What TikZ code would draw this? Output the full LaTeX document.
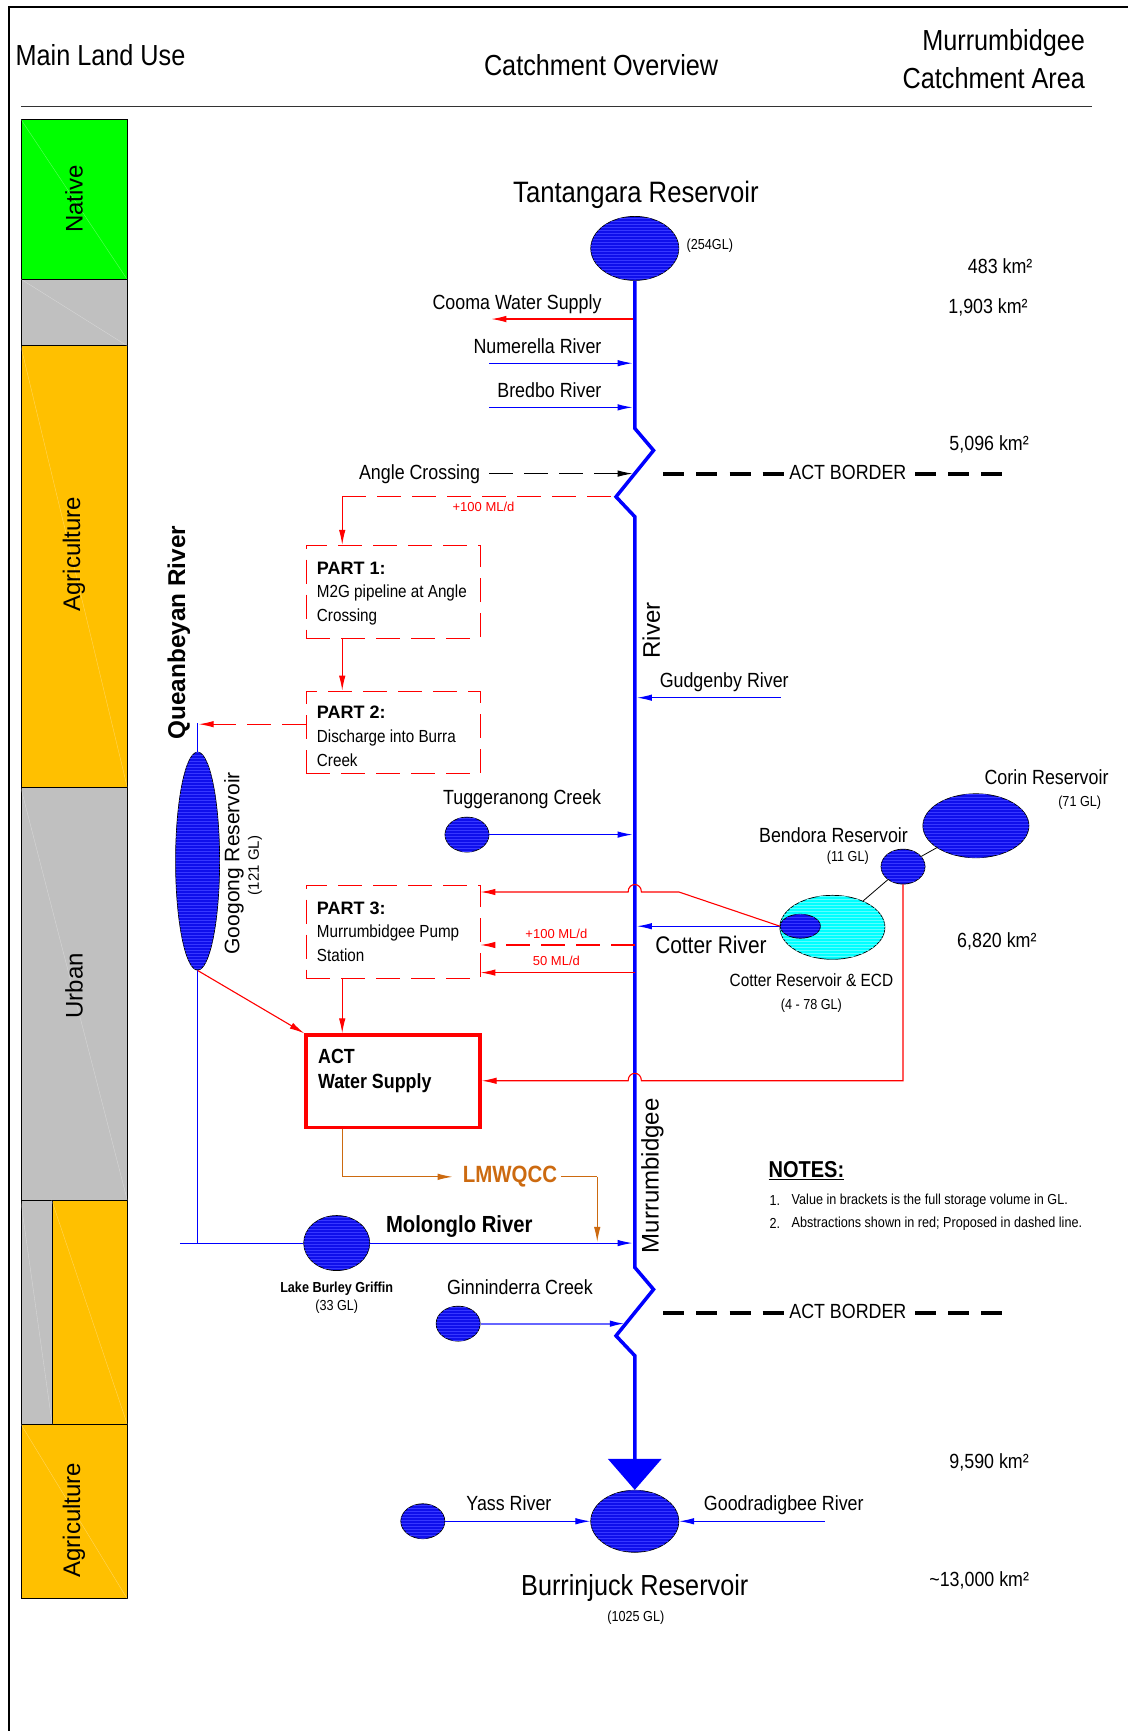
\documentclass[tikz,border=0pt]{standalone}
\usepackage{fontspec}
\setmainfont{Liberation Sans}
\newfontfamily\narrowf{Liberation Sans}[FakeStretch=0.87]
\usetikzlibrary{arrows.meta,positioning,shapes.geometric,patterns}
\newcommand{\fsz}[1]{\fontsize{#1}{#1}\selectfont}
\definecolor{resblue}{RGB}{15,15,235}
\definecolor{respat}{RGB}{55,55,255}
\definecolor{rescyan}{RGB}{0,255,255}
\definecolor{respatc}{RGB}{90,255,255}
\definecolor{lwqorange}{RGB}{204,106,16}
\definecolor{landyellow}{RGB}{255,192,0}
\definecolor{landgrey}{RGB}{192,192,192}
\tikzset{
  resbase/.style={ellipse,draw,line width=0.7pt,inner sep=0pt},
  resv/.style={resbase,fill=resblue,postaction={pattern=horizontal lines,pattern color=respat}},
  resc/.style={resbase,fill=rescyan,postaction={pattern=horizontal lines,pattern color=respatc}},
  landblk/.style={rectangle,draw,line width=0.7pt,inner sep=0pt,minimum width=106pt},
  faintln/.style={white,opacity=0.35,line width=0.4pt},
  lbl/.style={inner sep=0pt,yshift=-1.5pt,font=\narrowf\fsz{20.5}},
  headtxt/.style={inner sep=0pt,font=\narrowf\fsz{29}},
  smalltxt/.style={inner sep=0pt,yshift=-1.5pt,font=\narrowf\fsz{14.5}},
  rottxt/.style={inner sep=0pt,rotate=90,font=\fsz{24}},
  redtxt/.style={inner sep=0pt,red,font=\fsz{13}},
  partbox/.style={rectangle,draw=red,dashed,dash pattern=on 24pt off 11pt,line width=0.9pt,minimum width=174pt,text width=152pt,inner sep=0pt,align=flush left,font=\narrowf\fontsize{17.5}{23.7}\selectfont,text=black},
  thinarr/.style={-{Latex[length=15pt,width=6.5pt]}},
  redln/.style={red,line width=1.1pt},
  blueln/.style={blue,line width=1.1pt},
  orangeln/.style={lwqorange,line width=1.1pt},
  dashln/.style={dash pattern=on 24pt off 11pt},
  borderln/.style={line width=4pt,dash pattern=on 21pt off 12pt},
  riverln/.style={blue,line width=3.5pt,line join=miter}
}
\begin{document}
\begin{tikzpicture}[x=1.1037pt,y=-1.1037pt]
\useasboundingbox (0,0) rectangle (1022,1568);

% Frame and header
\coordinate (frmb) at (8,1568);
\coordinate (frmc) at (8,6);
\coordinate (frmr) at (1022,6);
\draw[line width=1.8pt] (frmb) -- (frmc) -- (frmr);
\coordinate (rule0) at (19,96);
\coordinate (rule1) at (989,96);
\draw[line width=0.9pt,black!80] (rule0) -- (rule1);
\node[headtxt,anchor=west] (hland) at (14,50) {Main Land Use};
\node[headtxt] (hover) at (544.5,59) {Catchment Overview};
\node[headtxt,anchor=east] (hmurr) at (983,39) {Murrumbidgee};
\node[headtxt,anchor=east] (hcatch) at (983,71) {Catchment Area};

% Land use column
\node[landblk,fill=green,minimum height=160pt] (native) at (67,180.5) {};
\node[landblk,fill=landgrey,minimum height=66.2pt] (grey1) at (67,283) {};
\node[landblk,fill=landyellow,minimum height=441.5pt] (agri1) at (67,513) {};
\node[landblk,fill=landgrey,minimum height=412.8pt] (urban) at (67,900) {};
\node[landblk,fill=landgrey,minimum width=30.9pt,minimum height=224pt] (grey2) at (33,1188.5) {};
\node[landblk,fill=landyellow,minimum width=75.1pt,minimum height=224pt] (agri2) at (81,1188.5) {};
\node[landblk,fill=landyellow,minimum height=174.4pt] (agri3) at (67,1369) {};
\draw[faintln] (native.north west) -- (native.south east);
\draw[faintln] (grey1.north west) -- (grey1.south east);
\draw[faintln] (agri1.north west) -- (agri1.south east);
\draw[faintln] (urban.north west) -- (urban.south east);
\draw[faintln] (grey2.north west) -- (grey2.south east);
\draw[faintln] (agri2.north west) -- (agri2.south east);
\draw[faintln] (agri3.north west) -- (agri3.south east);
\node[rottxt] (tnative) at (67,180) {Native};
\node[rottxt] (tagri1) at (67,502) {Agriculture};
\node[rottxt] (turban) at (67,893) {Urban};
\node[rottxt] (tagri3) at (67,1377) {Agriculture};

% Reservoirs
\node[resv,minimum width=88pt,minimum height=64pt] (tant) at (575,225) {};
\node[resv,minimum width=44pt,minimum height=218pt] (goog) at (179,780) {};
\node[resv,minimum width=44pt,minimum height=35pt] (tugg) at (423,756) {};
\node[resv,minimum width=106pt,minimum height=64pt] (corin) at (884,748) {};
\node[resv,minimum width=44pt,minimum height=35pt] (bend) at (818,785) {};
\node[resc,minimum width=105pt,minimum height=64pt] (cott) at (754,840) {};
\node[resv,minimum width=40pt,minimum height=24pt] (cotin) at (725,839) {};
\node[resv,minimum width=66pt,minimum height=55pt] (griff) at (305,1126) {};
\node[resv,minimum width=44pt,minimum height=35pt] (ginn) at (415,1199) {};
\node[resv,minimum width=44pt,minimum height=35pt] (yass) at (383,1378) {};
\node[resv,minimum width=88pt,minimum height=62pt] (burr) at (575,1378) {};
\draw[line width=0.8pt] (corin) -- (bend);
\draw[line width=0.8pt] (bend) -- (cott);

% Main river
\coordinate (k1a) at (575,388);
\coordinate (k1b) at (592,408);
\coordinate (k1c) at (558,450);
\coordinate (k1d) at (575,468);
\coordinate (k2a) at (575,1148);
\coordinate (k2b) at (592,1168);
\coordinate (k2c) at (558,1210);
\coordinate (k2d) at (575,1228);
\draw[riverln,-{Triangle[length=31pt,width=53pt]}] (tant.south) -- (k1a) -- (k1b) -- (k1c) -- (k1d) -- (k2a) -- (k2b) -- (k2c) -- (k2d) -- (burr.north);
\node[rottxt] (triver) at (590,571) {River};
\node[rottxt] (tmurr) at (591,1065) {Murrumbidgee};

% Abstraction boxes
\node[partbox,minimum height=92.7pt] (part1) at (356,536) {\rule{0pt}{16pt}{\rmfamily\bfseries\fontsize{18}{23.7}\selectfont PART 1:}\\M2G pipeline at Angle\\Crossing};
\node[partbox,minimum height=82.8pt] (part2) at (356,663.5) {\rule{0pt}{20.5pt}{\rmfamily\bfseries\fontsize{18}{23.7}\selectfont PART 2:}\\Discharge into Burra\\Creek};
\node[partbox,minimum height=92.7pt] (part3) at (356,844) {{\rmfamily\bfseries\fontsize{18}{23.7}\selectfont PART 3:}\\Murrumbidgee Pump\\Station};
\node[rectangle,draw=red,line width=3.2pt,minimum width=174pt,minimum height=92.7pt,inner sep=0pt] (act) at (356,979.5) {};
\node[inner sep=0pt,anchor=west,font=\narrowf\bfseries\fsz{20.5}] (tact) at (288,957) {ACT};
\node[inner sep=0pt,anchor=west,font=\narrowf\bfseries\fsz{20.5}] (twater) at (288,981) {Water Supply};

% Upper tributaries
\coordinate (cooS) at (573,289);
\coordinate (cooE) at (445,289);
\coordinate (numS) at (443,329);
\coordinate (numE) at (573,329);
\coordinate (breS) at (443,369);
\coordinate (breE) at (573,369);
\draw[redln,thinarr] (cooS) -- (cooE);
\draw[blueln,thinarr] (numS) -- (numE);
\draw[blueln,thinarr] (breS) -- (breE);
\node[lbl,anchor=east] (tcoo) at (545,274) {Cooma Water Supply};
\node[lbl,anchor=east] (tnum) at (545,312) {Numerella River};
\node[lbl,anchor=east] (tbre) at (545,352) {Bredbo River};

% Angle Crossing
\node[lbl,anchor=east] (tang) at (435,428) {Angle Crossing};
\coordinate (angS) at (443,429);
\coordinate (angE) at (573,429);
\draw[line width=0.9pt,thinarr,dashln] (angS) -- (angE);
\coordinate (m2g) at (310,450);
\draw[redln,dashln] (m2g) -- (k1c);
\draw[redln,thinarr] (m2g) -- (m2g |- part1.north);
\node[redtxt] (tm2g) at (438,459) {+100 ML/d};
\draw[redln,thinarr] (m2g |- part1.south) -- (m2g |- part2.north);
\coordinate (qdis) at (180,656);
\draw[redln,thinarr,dashln] (part2.west |- qdis) -- (qdis);

% Queanbeyan side
\coordinate (qtop) at (179,655);
\coordinate (qbot) at (179,1126);
\draw[blue,line width=0.9pt] (qtop) -- (goog.north);
\draw[blue,line width=0.9pt] (goog.south) -- (qbot);
\node[inner sep=0pt,rotate=90,font=\bfseries\fsz{24.3}] (tquean) at (162,573) {Queanbeyan River};
\node[inner sep=0pt,rotate=90,font=\fsz{21}] (tgoog) at (212,782) {Googong Reservoir};
\node[inner sep=0pt,rotate=90,font=\fsz{15}] (tgoogv) at (231,784) {(121 GL)};
\draw[redln,thinarr] (goog.south) -- (act.north west);
\draw[redln,thinarr] (m2g |- part3.south) -- (m2g |- act.north);

% Middle tributaries
\coordinate (gudS) at (707,632);
\coordinate (gudE) at (577,632);
\draw[blueln,thinarr] (gudS) -- (gudE);
\node[lbl] (tgud) at (656,617) {Gudgenby River};
\coordinate (tugE) at (573,756);
\draw[blueln,thinarr] (tugg) -- (tugE);
\node[lbl] (ttug) at (473,723) {Tuggeranong Creek};
\coordinate (cotE) at (577,839);
\draw[blueln,thinarr] (cotin.west) -- (cotE);
\node[lbl,font=\narrowf\fsz{24}] (tcot) at (644,855) {Cotter River};

% Cotter abstractions
\coordinate (abA) at (615,808);
\coordinate (abB) at (581,808);
\coordinate (abC) at (569,808);
\draw[redln,thinarr] (cotin.west) -- (abA) -- (abB) .. controls (581,799) and (569,799) .. (abC) -- (abC -| part3.east);
\coordinate (abD) at (575,856);
\coordinate (abE) at (575,881);
\draw[redln,thinarr,dashln] (abD) -- (abD -| part3.east);
\draw[redln,thinarr] (abE) -- (abE -| part3.east);
\node[redtxt] (tab1) at (504,846) {+100 ML/d};
\node[redtxt] (tab2) at (504,870) {50 ML/d};
\coordinate (bdA) at (818,979);
\coordinate (bdB) at (581,979);
\coordinate (bdC) at (569,979);
\draw[redln,thinarr] (bend.south) -- (bdA) -- (bdB) .. controls (581,970) and (569,970) .. (bdC) -- (bdC -| act.east);

% Reservoir labels
\node[lbl,font=\narrowf\fsz{29.5}] (ttant) at (576,175) {Tantangara Reservoir};
\node[smalltxt] (ttantv) at (643,221) {(254GL)};
\node[lbl] (tcorin) at (948,703) {Corin Reservoir};
\node[smalltxt] (tcorinv) at (978,726) {(71 GL)};
\node[lbl] (tbend) at (755,755.5) {Bendora Reservoir};
\node[smalltxt] (tbendv) at (768,776) {(11 GL)};
\node[lbl,font=\narrowf\fsz{17.7}] (tcott) at (735,886.5) {Cotter Reservoir \& ECD};
\node[smalltxt] (tcottv) at (735,910) {(4 - 78 GL)};
\node[lbl,font=\narrowf\fsz{29}] (tburr) at (575,1437) {Burrinjuck Reservoir};
\node[smalltxt] (tburrv) at (576,1464) {(1025 GL)};

% Catchment areas
\node[lbl] (a483) at (906,240) {483 km²};
\node[lbl] (a1903) at (895,277) {1,903 km²};
\node[lbl] (a5096) at (896,401) {5,096 km²};
\node[lbl] (a6820) at (903,851) {6,820 km²};
\node[lbl] (a9590) at (896,1323) {9,590 km²};
\node[lbl] (a13000) at (887,1430) {\textasciitilde 13,000 km²};

% ACT border lines
\node[lbl] (bord1) at (768,427) {ACT BORDER};
\coordinate (bd1L) at (601,429);
\coordinate (bd1A) at (710,429);
\coordinate (bd1B) at (829,429);
\coordinate (bd1R) at (908,429);
\draw[borderln] (bd1L) -- (bd1A);
\draw[borderln] (bd1B) -- (bd1R);
\node[lbl] (bord2) at (768,1187) {ACT BORDER};
\coordinate (bd2L) at (601,1189);
\coordinate (bd2A) at (710,1189);
\coordinate (bd2B) at (829,1189);
\coordinate (bd2R) at (908,1189);
\draw[borderln] (bd2L) -- (bd2A);
\draw[borderln] (bd2B) -- (bd2R);

% LMWQCC and Molonglo
\node[inner sep=0pt,lwqorange,font=\narrowf\bfseries\fsz{23.5}] (lmw) at (462,1066) {LMWQCC};
\coordinate (lmA) at (310,1066);
\coordinate (lmB) at (410,1066);
\coordinate (lmF) at (508,1066);
\coordinate (lmC) at (541,1066);
\coordinate (lmD) at (541,1125);
\draw[orangeln] (lmA |- act.south) -- (lmA);
\draw[orangeln,thinarr] (lmA) -- (lmB);
\draw[orangeln] (lmF) -- (lmC);
\draw[orangeln,thinarr] (lmC) -- (lmD);
\coordinate (molS) at (163,1126);
\coordinate (molE) at (573,1126);
\draw[blueln] (molS) -- (griff);
\draw[blueln,thinarr] (griff) -- (molE);
\node[inner sep=0pt,font=\narrowf\bfseries\fsz{23.3}] (tmol) at (416,1111) {Molonglo River};
\node[inner sep=0pt,font=\narrowf\bfseries\fsz{14.5}] (tgrif) at (305,1167) {Lake Burley Griffin};
\node[smalltxt] (tgrifv) at (305,1182) {(33 GL)};

% Lower tributaries
\coordinate (ginE) at (566,1199);
\draw[blue!60!white,line width=1.8pt,-{Latex[length=15pt,width=6.5pt,color=blue]}] (ginn) -- (ginE);
\node[lbl] (tgin) at (471,1165) {Ginninderra Creek};
\draw[blueln,thinarr] (yass) -- (burr);
\node[lbl] (tyass) at (461,1360) {Yass River};
\coordinate (gooS) at (747,1378);
\draw[blueln,thinarr] (gooS) -- (burr);
\node[lbl] (tgoo) at (710,1362) {Goodradigbee River};

% Notes
\node[inner sep=0pt,anchor=west,font=\narrowf\bfseries\fsz{23}] (notes) at (696,1060) {\underline{NOTES:}};
\node[smalltxt,anchor=west] (n1a) at (697,1086) {1.};
\node[smalltxt,anchor=west] (n1b) at (717,1086) {Value in brackets is the full storage volume in GL.};
\node[smalltxt,anchor=west] (n2a) at (697,1107) {2.};
\node[smalltxt,anchor=west] (n2b) at (717,1107) {Abstractions shown in red; Proposed in dashed line.};
\end{tikzpicture}
\end{document}
